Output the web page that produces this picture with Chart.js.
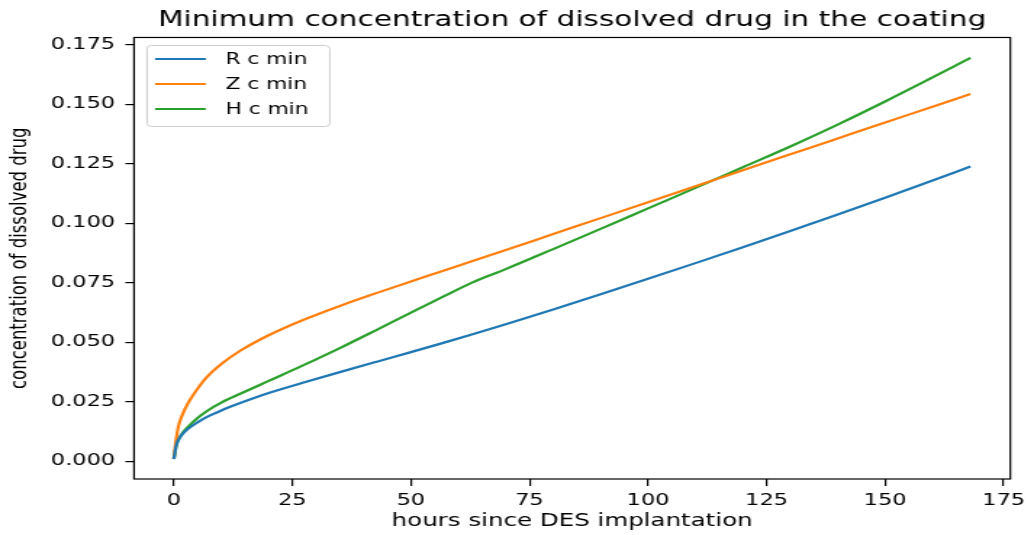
<!DOCTYPE html>
<html>
<head>
<meta charset="utf-8">
<script src="https://cdn.jsdelivr.net/npm/chart.js@4.4.1/dist/chart.umd.min.js"></script>
<style>
  html, body { margin: 0; padding: 0; background: #fff; overflow: hidden; }
  #wrap { width: 1034px; height: 535px; overflow: hidden; }
  /* the source picture is a stretched figure, so the canvas is widened the same way */
  #chart { display: block; transform-origin: 0 0; transform: scaleX(1.4502); }
</style>
</head>
<body>
<div id="wrap"><canvas id="chart" width="713" height="535"></canvas></div>
<script>
// data
const hours = [0, 0.5, 1, 2, 3, 5, 7, 10, 14, 20, 27, 35, 43, 50, 57, 63, 70, 80, 90, 100, 110, 120, 130, 140, 150, 160, 168];
const rMin = [0.001, 0.0066, 0.0092, 0.0119, 0.0137, 0.0164, 0.0187, 0.0214, 0.0245, 0.0287, 0.0329, 0.0375, 0.0420, 0.0459, 0.0499, 0.0534, 0.0576, 0.0638, 0.0702, 0.0767, 0.0833, 0.0900, 0.0968, 0.1037, 0.1108, 0.1180, 0.1239];
const zMin = [0.001, 0.0095, 0.0150, 0.0205, 0.0245, 0.0305, 0.0355, 0.0409, 0.0465, 0.0530, 0.0592, 0.0653, 0.0709, 0.0756, 0.0802, 0.0842, 0.0888, 0.0955, 0.1022, 0.1089, 0.1156, 0.1223, 0.1290, 0.1357, 0.1424, 0.1490, 0.1544];
const hMin = [0.001, 0.0065, 0.0092, 0.0123, 0.0145, 0.0182, 0.0212, 0.0247, 0.0284, 0.0338, 0.0401, 0.0476, 0.0555, 0.0625, 0.0694, 0.0752, 0.0808, 0.0892, 0.0977, 0.1063, 0.1149, 0.1236, 0.1323, 0.1415, 0.1512, 0.1613, 0.1695];

const seriesNames = ['R c min', 'Z c min', 'H c min'];
const seriesColors = ['#1f77b4', '#ff7f0e', '#2ca02c'];
const xTicks = [0, 25, 50, 75, 100, 125, 150, 175];
const yTicks = [0, 0.025, 0.05, 0.075, 0.1, 0.125, 0.15, 0.175];

Chart.defaults.font.family = '"DejaVu Sans", sans-serif';
Chart.defaults.color = '#000';

// legend box inside the plot, top left
const innerLegend = {
  id: 'innerLegend',
  afterDatasetsDraw(chart) {
    const { ctx, chartArea } = chart;
    const x0 = chartArea.left + 9, y0 = chartArea.top + 8;
    ctx.save();
    ctx.fillStyle = 'rgba(255,255,255,0.8)';
    ctx.strokeStyle = '#cccccc';
    ctx.lineWidth = 1;
    ctx.beginPath();
    ctx.roundRect(x0, y0, 126, 81, 3);
    ctx.fill();
    ctx.stroke();
    ctx.font = '15px "DejaVu Sans"';
    ctx.textBaseline = 'middle';
    chart.data.datasets.forEach((ds, i) => {
      const y = y0 + 13.5 + i * 25;
      ctx.strokeStyle = ds.borderColor;
      ctx.lineWidth = 2.2;
      ctx.beginPath();
      ctx.moveTo(x0 + 5.5, y);
      ctx.lineTo(x0 + 40.5, y);
      ctx.stroke();
      ctx.fillStyle = '#000';
      ctx.fillText(ds.label, x0 + 54, y + 1);
    });
    ctx.restore();
  }
};

// box round the axes
const frame = {
  id: 'frame',
  afterDraw(chart) {
    const { ctx, chartArea: a } = chart;
    ctx.save();
    ctx.strokeStyle = '#000';
    ctx.lineWidth = 1.2;
    ctx.strokeRect(a.left, a.top, a.right - a.left, a.bottom - a.top);
    ctx.restore();
  }
};

const series = [rMin, zMin, hMin];

new Chart(document.getElementById('chart'), {
  type: 'line',
  data: {
    datasets: series.map((vals, i) => ({
      label: seriesNames[i],
      data: hours.map((h, j) => ({ x: h, y: vals[j] })),
      borderColor: seriesColors[i],
      backgroundColor: seriesColors[i],
      borderWidth: 2.2,
      pointRadius: 0,
      fill: false,
      cubicInterpolationMode: 'monotone'
    }))
  },
  options: {
    responsive: false,
    animation: false,
    layout: { padding: { left: 0, right: 11.7, top: 0, bottom: 0 } },
    plugins: {
      legend: { display: false },
      tooltip: { enabled: false },
      title: {
        display: true,
        fullSize: false,
        text: 'Minimum concentration of dissolved drug in the coating',
        font: { size: 20.4, weight: 'normal' },
        color: '#000',
        padding: { top: 8, bottom: 5 }
      }
    },
    scales: {
      x: {
        type: 'linear',
        min: -8.4,
        max: 176.4,
        afterBuildTicks: s => { s.ticks = xTicks.map(v => ({ value: v })); },
        afterFit: s => { s.height = 56; },
        border: { display: false },
        grid: { display: true, drawOnChartArea: false, drawTicks: true, tickLength: 7, color: '#000', lineWidth: 1.2 },
        ticks: { font: { size: 15.5 }, padding: 6, autoSkip: false, maxRotation: 0, color: '#000' },
        title: { display: true, text: 'hours since DES implantation', font: { size: 16.9 }, padding: { top: 0, bottom: 3 }, color: '#000' }
      },
      y: {
        min: -0.0074,
        max: 0.1781,
        afterBuildTicks: s => { s.ticks = yTicks.map(v => ({ value: v })); },
        afterFit: s => { s.width = 92.4; },
        border: { display: false },
        grid: { display: true, drawOnChartArea: false, drawTicks: true, tickLength: 6, color: '#000', lineWidth: 1.2 },
        ticks: { font: { size: 15.5 }, padding: 7, autoSkip: false, color: '#000', callback: v => v.toFixed(3) },
        title: { display: true, text: 'concentration of dissolved drug', font: { size: 16.5 }, padding: { top: 4, bottom: 0 }, color: '#000' }
      }
    }
  },
  plugins: [innerLegend, frame]
});
</script>
</body>
</html>
